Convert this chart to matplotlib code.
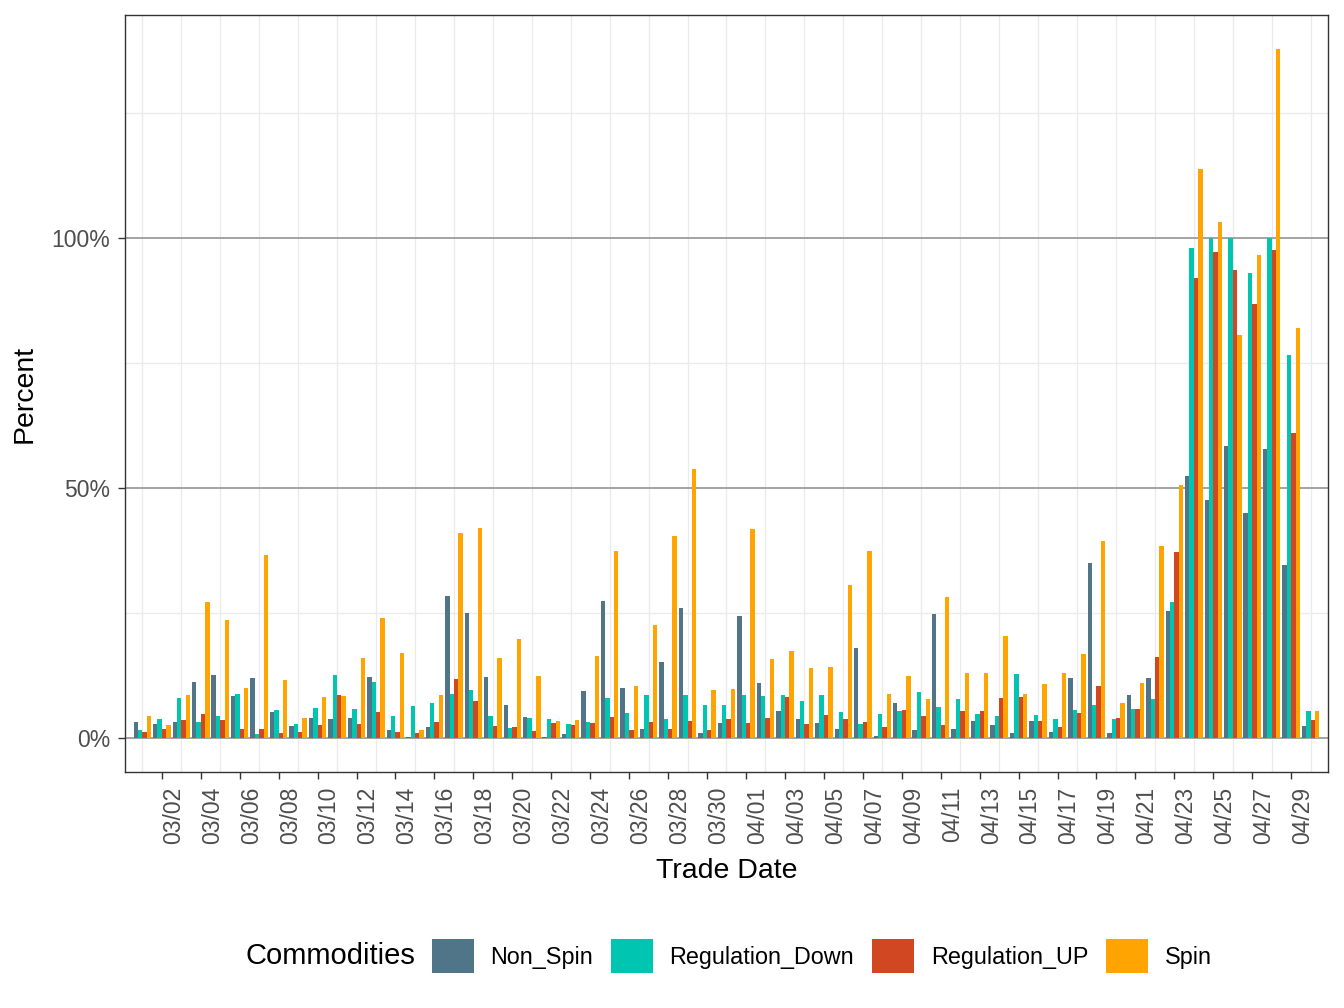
'''
daily percent by commodity, dodged bars (03/01 - 04/30)
'''
import numpy as np
import pandas as pd
import matplotlib
matplotlib.use('Agg')
import matplotlib.pyplot as plt
from matplotlib.patches import Patch

plt.rcParams['font.family'] = ['Liberation Sans', 'DejaVu Sans']

# %%
# values (percent)
trade_dates = pd.date_range('2020-03-01', '2020-04-30', freq='D')

non_spin = [3.2, 2.8, 3.2, 11.2, 12.6, 8.4, 12.0, 5.2, 2.4, 4.0,
            3.8, 4.0, 12.2, 1.6, 0.2, 2.2, 28.4, 25.0, 12.2, 6.6,
            4.2, 0.2, 0.8, 9.4, 27.4, 10.0, 1.8, 15.2, 26.0, 1.0,
            3.0, 24.4, 11.0, 5.4, 3.8, 3.0, 1.8, 18.0, 0.4, 7.0,
            1.6, 24.8, 1.8, 3.4, 2.6, 1.0, 3.4, 1.2, 12.0, 35.0,
            1.0, 8.6, 12.0, 25.4, 52.4, 47.6, 58.4, 45.0, 57.8, 34.6,
            2.4]
reg_down = [1.6, 3.8, 8.0, 3.2, 4.4, 8.8, 0.8, 5.6, 2.8, 6.0,
            12.6, 5.8, 11.2, 4.4, 6.4, 7.0, 8.8, 9.6, 4.4, 2.0,
            4.0, 3.8, 2.8, 3.2, 8.0, 5.0, 8.6, 3.8, 8.6, 6.6,
            6.6, 8.6, 8.4, 8.6, 7.4, 8.6, 5.2, 2.8, 4.8, 5.4,
            9.2, 6.2, 7.8, 4.8, 4.4, 12.8, 4.6, 3.8, 5.6, 6.6,
            3.8, 5.8, 7.8, 27.2, 98.0, 100.0, 100.0, 93.0, 100.0, 76.6,
            5.4]
reg_up = [1.2, 1.8, 3.6, 4.8, 3.6, 1.8, 1.8, 1.0, 1.2, 2.6,
          8.6, 2.8, 5.2, 1.2, 1.0, 3.2, 11.8, 7.4, 2.4, 2.2,
          1.4, 3.0, 2.6, 3.0, 4.2, 1.6, 3.2, 1.8, 3.4, 1.6,
          3.8, 3.0, 4.0, 8.2, 2.8, 4.6, 3.8, 3.2, 2.2, 5.6,
          4.4, 2.6, 5.4, 5.4, 8.0, 8.2, 3.4, 2.2, 5.0, 10.4,
          4.0, 5.8, 16.2, 37.2, 92.0, 97.2, 93.6, 86.8, 97.6, 61.0,
          3.6]
spin = [4.4, 2.6, 8.6, 27.2, 23.6, 10.0, 36.6, 11.6, 4.0, 8.2,
        8.4, 16.0, 24.0, 17.0, 1.6, 8.6, 41.0, 42.0, 16.0, 19.8,
        12.4, 3.4, 3.6, 16.4, 37.4, 10.4, 22.6, 40.4, 53.8, 9.6,
        9.8, 41.8, 15.8, 17.4, 14.0, 14.2, 30.6, 37.4, 8.8, 12.4,
        7.8, 28.2, 13.0, 13.0, 20.4, 8.8, 10.8, 13.0, 16.8, 39.4,
        7.0, 11.0, 38.4, 50.6, 113.8, 103.2, 80.6, 96.6, 137.8, 82.0,
        5.4]

commodities = ['Non_Spin', 'Regulation_Down', 'Regulation_UP', 'Spin']
colors = ['#507488', '#00C6B1', '#D04721', '#FFA400']

# %%
W, H = 1344, 1008
fig = plt.figure(figsize=(W / 100, H / 100), dpi=100)
ax = fig.add_axes([125 / W, 1 - 772 / H, (1328 - 125) / W, (772 - 15) / H])

x = np.arange(len(trade_dates))
bar_w = 0.9 / 4
series = [non_spin, reg_down, reg_up, spin]
for i, (vals, col) in enumerate(zip(series, colors)):
    offset = (i - 1.5) * bar_w
    ax.bar(x + offset, vals, width=bar_w, color=col, linewidth=0, zorder=3)

# grid: light lines on odd days / quarter marks, darker at 0, 50, 100
for xv in x[::2]:
    ax.axvline(xv, color='#EBEBEB', lw=1.0, zorder=0)
for yv in [25, 75, 125]:
    ax.axhline(yv, color='#EBEBEB', lw=1.0, zorder=0)
for yv in [0, 50, 100]:
    ax.axhline(yv, color='#9C9C9C', lw=1.3, zorder=1)

ax.set_xlim(-0.89, 60.89)
ax.set_ylim(-6.8, 144.6)

ax.set_xticks(x[1::2])
ax.set_xticklabels([d.strftime('%m/%d') for d in trade_dates[1::2]],
                   rotation=90, ha='left', va='top')
ax.set_yticks([0, 50, 100])
ax.set_yticklabels(['0%', '50%', '100%'])
ax.tick_params(axis='both', length=5, width=1.0, color='#333333',
               labelsize=16.5, labelcolor='#4D4D4D', pad=5.5)

for sp in ax.spines.values():
    sp.set_color('#333333')
    sp.set_linewidth(1.0)
    sp.set_zorder(5)

fig.text(726.5 / W, 1 - 871 / H, 'Trade Date', ha='center', va='center',
         fontsize=20.5)
fig.text(25 / W, 1 - 393.5 / H, 'Percent', ha='center', va='center',
         rotation=90, fontsize=20.5)

# legend at the bottom, title on the left
fig.text(246 / W, 1 - 956 / H, 'Commodities', ha='left', va='center',
         fontsize=21)
handles = [Patch(facecolor=c, edgecolor='none', label=l)
           for c, l in zip(colors, commodities)]
fig.legend(handles=handles, loc='center left',
           bbox_to_anchor=(432 / W, 1 - 956 / H), ncol=4, frameon=False,
           fontsize=16.8, handlelength=1.8, handleheight=1.8,
           handletextpad=0.7, columnspacing=0.78, borderpad=0,
           borderaxespad=0)

fig.savefig('out.png', dpi=100)
